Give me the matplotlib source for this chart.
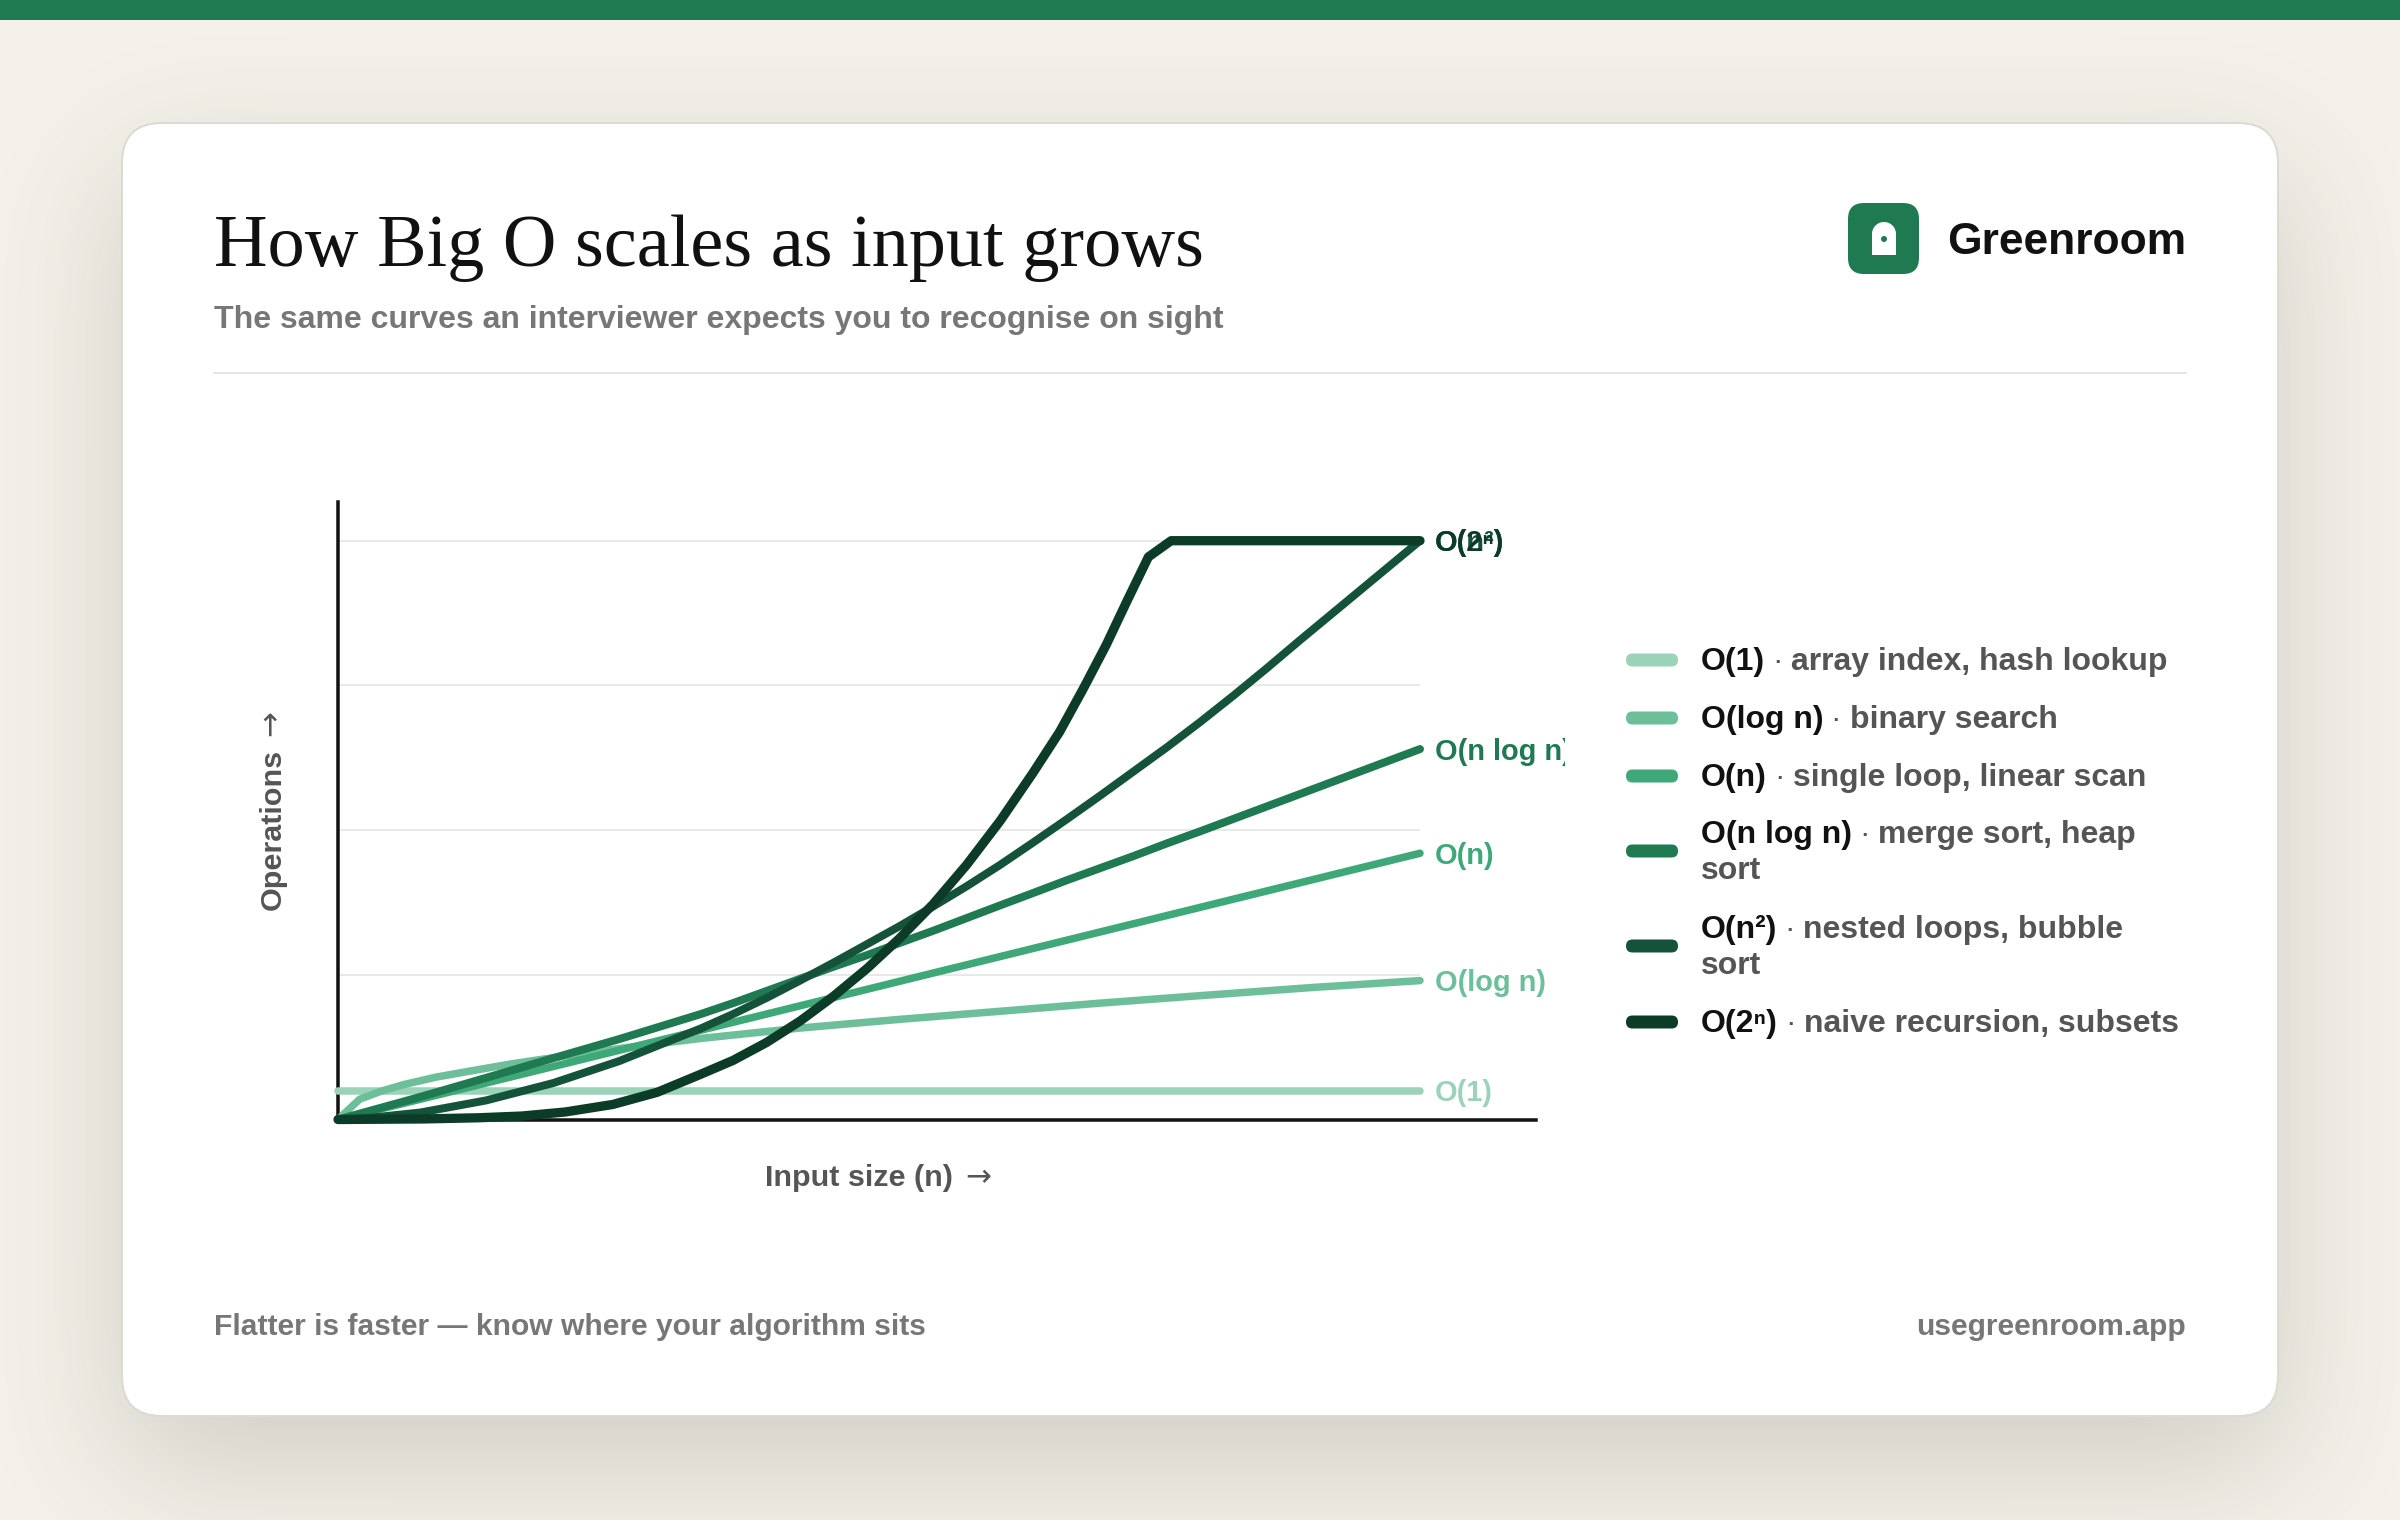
import math
import numpy as np
import matplotlib
matplotlib.use("Agg")
import matplotlib.pyplot as plt
from matplotlib.patches import FancyBboxPatch, Polygon, Circle, Rectangle

# --- data ---
names = ["O(1)", "O(log n)", "O(n)", "O(n log n)", "O(n²)", "O(2ⁿ)"]
colors = ["#9bd3b8", "#6dbf9a", "#3fa878", "#1f7a52", "#14533a", "#0c3b28"]
widths = [7.5, 7.5, 7.5, 8, 8, 9.3]  # stroke widths in px

o1_x = [0, 100]
o1_y = [5, 5]
logn_x = [0, 2, 4, 6, 9, 12, 16, 21, 27, 33.5, 42.7, 51.9, 61.2, 70.4, 79.7, 90, 100]
logn_y = [0, 3.5, 4.9, 6.0, 7.3, 8.3, 9.6, 11.0, 12.5, 14, 15.8, 17.3, 18.7, 20.1, 21.4, 22.8, 24]
n_x = [0, 100]
n_y = [0, 46]
nlogn_x = [0, 1.4, 7.6, 13.7, 19.9, 26, 33.5, 36.5, 39.6, 42.7, 45.8, 48.9, 51.9, 55, 58.1, 61.2,
           64.2, 67.3, 70.4, 73.5, 76.6, 79.7, 85, 90, 95, 100]
nlogn_y = [0, 0.7, 3.9, 7.2, 10.6, 13.9, 18.2, 20.1, 22.2, 24.3, 26.4, 28.4, 30.5, 32.6, 34.8, 37,
           39.1, 41.3, 43.4, 45.5, 47.7, 49.8, 53.5, 57, 60.5, 64]
n2_x = [0, 3, 7.6, 13.7, 19.9, 26, 30, 33.5, 36.5, 39.6, 42.7, 45.8, 48.9, 51.9, 55, 58.1, 61.2,
        64.2, 67.3, 70.4, 73.5, 76.6, 79.7, 82.8, 85.8, 88.9, 92, 96, 100]
n2_y = [0, 0.3, 1.2, 3.3, 6.3, 10.1, 13.1, 15.7, 18.2, 21, 24, 27.1, 30.3, 33.4, 36.8, 40.3, 44,
        47.8, 51.8, 55.9, 60.1, 64.3, 68.7, 73.3, 77.9, 82.8, 87.6, 93.8, 100]
exp_x = [0, 8, 13, 17, 21, 25.4, 29.5, 33.5, 36.5, 39.6, 42.7, 45.8, 48.9, 51.9, 55, 58.1, 61.2,
         64.2, 66.7, 68.9, 71, 72.9, 74.9, 77, 100]
exp_y = [0, 0.1, 0.3, 0.6, 1.3, 2.6, 4.7, 7.8, 10.2, 13.3, 17, 21.3, 26.1, 31.3, 37.2, 44, 51.6,
         59.8, 67, 74.5, 82, 89.5, 97.2, 100, 100]
series_x = [o1_x, logn_x, n_x, nlogn_x, n2_x, exp_x]
series_y = [o1_y, logn_y, n_y, nlogn_y, n2_y, exp_y]
grid_vals = [25, 50, 75, 100]

legend_uses = ["array index, hash lookup", "binary search", "single loop, linear scan",
               "merge sort, heap\nsort", "nested loops, bubble\nsort", "naive recursion, subsets"]
legend_centers = [660, 718, 776, 851, 946, 1022]  # swatch y in px

DPI = 100
SANS = "Liberation Sans"
SERIF = "Liberation Serif"
BRAND = "#1f7a52"


def px(v):  # pixels to points
    return v * 72 / DPI


fig = plt.figure(figsize=(24, 15.2), dpi=DPI, facecolor="#f4f1ea")

# page layer, coordinates are plain pixels
page = fig.add_axes([0, 0, 1, 1])
page.axis("off")

page.add_patch(Rectangle((0, 0), 2400, 20, fc=BRAND, ec="none"))

# soft card shadow, gaussian edge falloff in both directions
CARD = (122, 123, 2278, 1416)
erf = np.vectorize(math.erf)
xs = np.arange(0, 2400)
ys = np.arange(0, 1520)
SIG = 68
SHIFT = 50
fx = 0.5 * (erf((xs - CARD[0]) / (SIG * 2 ** 0.5)) - erf((xs - CARD[2]) / (SIG * 2 ** 0.5)))
fy = 0.5 * (erf((ys - CARD[1] - SHIFT) / (SIG * 2 ** 0.5)) - erf((ys - CARD[3] - SHIFT) / (SIG * 2 ** 0.5)))
shadow = np.zeros((1520, 2400, 4))
shadow[..., :3] = (0.25, 0.24, 0.18)
shadow[..., 3] = 0.2 * np.outer(fy, fx)
page.imshow(shadow, extent=(0, 2400, 1520, 0), aspect="auto", zorder=1, interpolation="bilinear")
page.set_xlim(0, 2400)
page.set_ylim(1520, 0)

page.add_patch(FancyBboxPatch((CARD[0], CARD[1]), CARD[2] - CARD[0], CARD[3] - CARD[1],
                              boxstyle="round,pad=0,rounding_size=40",
                              fc="white", ec="#dcdad3", lw=px(2), zorder=2))

# header
page.text(214, 266, "How Big O scales as input grows", family=SERIF, fontsize=px(74.3),
          color="#111111", va="baseline", zorder=3)
page.text(214, 328, "The same curves an interviewer expects you to recognise on sight", family=SANS,
          weight="bold", fontsize=px(32), color="#777777", va="baseline", zorder=3)
page.plot([214, 2186], [373, 373], color="#e6e6e6", lw=px(2), zorder=3)

# logo, rounded square with a little door
page.add_patch(FancyBboxPatch((1848, 203), 71, 71, boxstyle="round,pad=0,rounding_size=16",
                              fc=BRAND, ec="none", zorder=3))
arc = np.linspace(np.pi, 0, 30)
door = [(1872, 255)] + list(zip(1884 + 12 * np.cos(arc), 234 - 12 * np.sin(arc))) + [(1896, 255)]
page.add_patch(Polygon(door, closed=True, fc="white", ec="none", zorder=4))
page.add_patch(Circle((1884, 239), 3, fc=BRAND, ec="none", zorder=5))
page.text(1947, 254, "Greenroom", family=SANS, weight="bold", fontsize=px(44.4),
          color="#111111", va="baseline", zorder=3)

# footer
page.text(214, 1335, "Flatter is faster — know where your algorithm sits", family=SANS, weight="bold",
          fontsize=px(30), color="#777777", va="baseline", zorder=3)
page.text(2186, 1335, "usegreenroom.app", family=SANS, weight="bold", fontsize=px(30),
          color="#777777", va="baseline", ha="right", zorder=3)

# chart axes: x=0 at 338px, x=100 at 1420px; y=0 at 1119.5px, y=100 at 540.7px
x_right = (1536 - 338) / 10.82
y_top = (1119.5 - 502) / 5.788
ax = fig.add_axes([338 / 2400, 1 - 1119.5 / 1520, (1536 - 338) / 2400, (1119.5 - 502) / 1520])
ax.patch.set_visible(False)
ax.set_xlim(0, x_right)
ax.set_ylim(0, y_top)
ax.set_xticks([])
ax.set_yticks([])
ax.spines["top"].set_visible(False)
ax.spines["right"].set_visible(False)
ax.spines["left"].set_linewidth(px(3.5))
ax.spines["bottom"].set_linewidth(px(3.5))
ax.spines["left"].set_color("#111111")
ax.spines["bottom"].set_color("#111111")
ax.hlines(grid_vals, 0, 100, color="#e8e8e8", lw=px(2), zorder=1)

clip = Rectangle((0, 0), 1565, 1520, transform=page.transData)
for i in range(len(names)):
    ax.plot(series_x[i], series_y[i], color=colors[i], lw=px(widths[i]), clip_on=False, zorder=3 + i,
            solid_capstyle="round", solid_joinstyle="round")
    lab = ax.annotate(names[i], (series_x[i][-1], series_y[i][-1]), xytext=(px(15), px(-2.5)),
                      textcoords="offset points", family=SANS, weight="bold", fontsize=px(29),
                      color=colors[i], va="center", annotation_clip=False, zorder=10 + i)
    lab.set_clip_on(True)
    lab.set_clip_path(clip)

# axis titles, the arrows come from DejaVu since they are long and thin there
page.text(765, 1186, "Input size (n)", family=SANS, weight="bold", fontsize=px(30.5), color="#555555",
          va="baseline", zorder=3)
page.text(978, 1178, "→", family="DejaVu Sans", fontsize=px(31), color="#555555",
          ha="center", va="center", zorder=3)
page.text(281, 910, "Operations", family=SANS, weight="bold", fontsize=px(30.5), color="#555555",
          ha="left", va="baseline", rotation=90, rotation_mode="anchor", zorder=3)
page.text(270.5, 723, "→", family="DejaVu Sans", fontsize=px(31), color="#555555",
          ha="center", va="center", rotation=90, zorder=3)

# legend: swatch, bold name in black, usage in grey
renderer = fig.canvas.get_renderer()
LINE = 35.5
for i in range(len(names)):
    cy = legend_centers[i]
    page.add_patch(FancyBboxPatch((1626, cy - 6.5), 52, 13, boxstyle="round,pad=0,rounding_size=6.5",
                                  fc=colors[i], ec="none", zorder=3))
    parts = legend_uses[i].split("\n")
    first_y = cy + 10 - LINE / 2 * (len(parts) - 1)
    head = page.text(1701, first_y, names[i], family=SANS, weight="bold", fontsize=px(32),
                     color="#111111", va="baseline", zorder=3)
    x_end = page.transData.inverted().transform((head.get_window_extent(renderer).x1, 0))[0]
    page.text(x_end + 7, first_y, "·", family=SANS, fontsize=px(32),
              color="#555555", va="baseline", zorder=3)
    page.text(x_end + 26, first_y, parts[0], family=SANS, weight="bold", fontsize=px(32),
              color="#555555", va="baseline", zorder=3)
    if len(parts) > 1:
        page.text(1701, first_y + LINE, parts[1], family=SANS, weight="bold", fontsize=px(32),
                  color="#555555", va="baseline", zorder=3)

fig.savefig("out.png", dpi=DPI, facecolor=fig.get_facecolor())
